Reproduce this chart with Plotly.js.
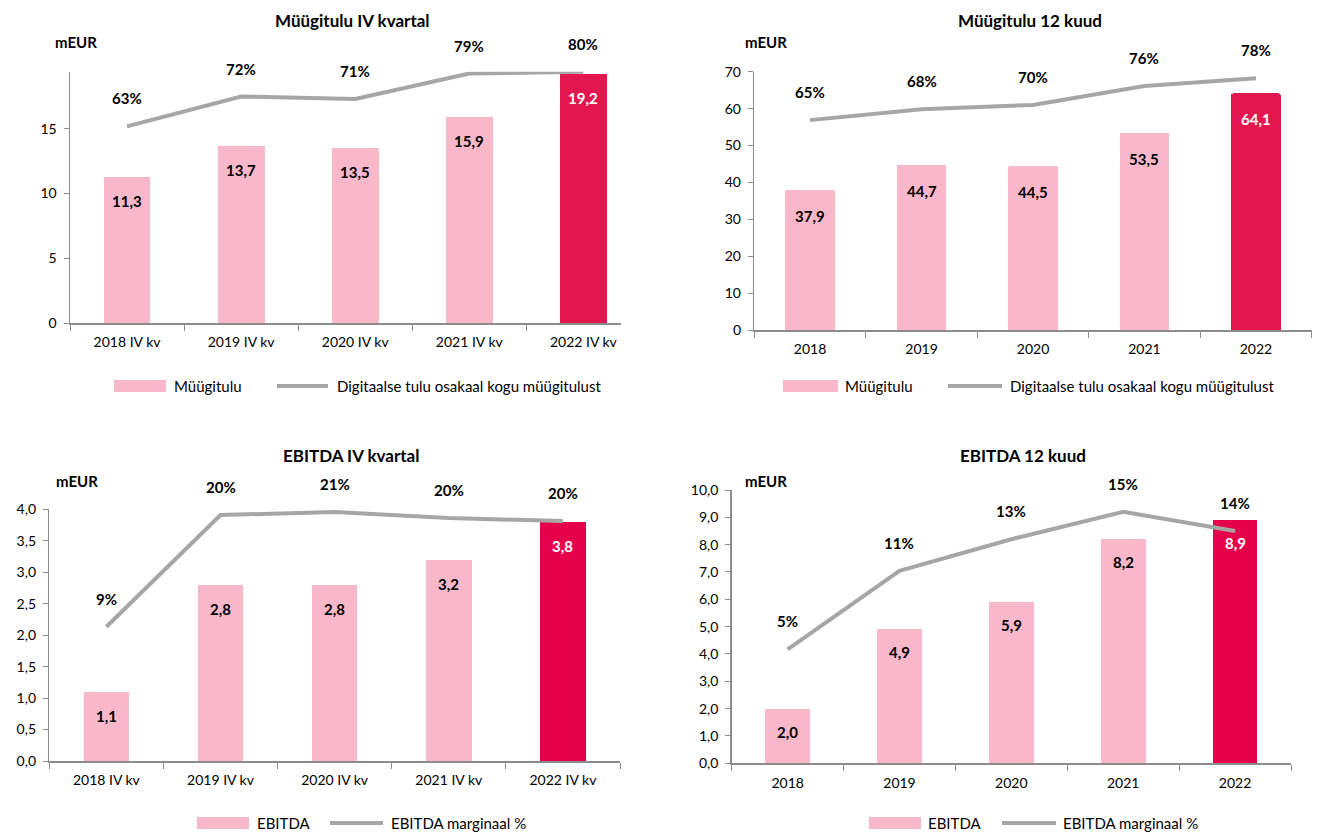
<!DOCTYPE html>
<html>
<head>
<meta charset="utf-8">
<script src="https://cdn.plot.ly/plotly-3.0.1.min.js"></script>
<style>
  html, body { margin: 0; padding: 0; background: #fff; }
  #chart { width: 1320px; height: 832px; }
</style>
</head>
<body>
<div id="chart"></div>
<script>
// andmed
const quarterCats = ['2018 IV kv', '2019 IV kv', '2020 IV kv', '2021 IV kv', '2022 IV kv'];
const yearCats = ['2018', '2019', '2020', '2021', '2022'];

const salesQ4 = [11.3, 13.7, 13.5, 15.9, 19.2];
const digitalShareQ4 = [62.6, 72.1, 71.3, 79.4, 80.0];

const sales12m = [37.9, 44.7, 44.5, 53.5, 64.1];
const digitalShare12m = [65.0, 68.4, 69.7, 75.6, 78.0];

const ebitdaQ4 = [1.1, 2.8, 2.8, 3.2, 3.8];
const ebitdaMarginQ4 = [9.3, 20.4, 20.7, 20.1, 19.8];

const ebitda12m = [2.0, 4.9, 5.9, 8.2, 8.9];
const ebitdaMargin12m = [5.3, 11.0, 13.3, 15.3, 13.9];

const titles = ['Müügitulu IV kvartal', 'Müügitulu 12 kuud', 'EBITDA IV kvartal', 'EBITDA 12 kuud'];
const barNames = ['Müügitulu', 'Müügitulu', 'EBITDA', 'EBITDA'];
const lineNames = ['Digitaalse tulu osakaal kogu müügitulust', 'Digitaalse tulu osakaal kogu müügitulust',
                   'EBITDA marginaal %', 'EBITDA marginaal %'];

const W = 1320, H = 832;
const px = x => x / W;
const py = y => 1 - y / H;

const PINK = '#f9b8ca';
const GREY = '#a6a6a6';
const AXIS = '#8c8c8c';

// paneelide paigutus (pikslites)
const panels = [
  { cats: quarterCats, bars: salesQ4, line: digitalShareQ4, left: 70, right: 621, top: 71.7, bottom: 323,
    yRange: [0, 19.4], dtick: 5, fmt: '', xRange: [-0.5, 4.33], y2Range: [0, 80], barW: 0.41,
    hi: '#e4164f', titleX: 352, titleY: 21, unitX: 76, unitY: 42, labShift: -24, radius: 0,
    leg: { box: [114, 166], boxText: 172, line: [277, 328], lineText: 335, y: 386 } },
  { cats: yearCats, bars: sales12m, line: digitalShare12m, left: 754.3, right: 1311.7, top: 71.7, bottom: 330,
    yRange: [0, 70], dtick: 10, fmt: '', xRange: [-0.5, 4.5], y2Range: [0, 80], barW: 0.445,
    hi: '#e4164f', titleX: 1030, titleY: 21, unitX: 766, unitY: 42, labShift: -26, radius: 2,
    leg: { box: [783, 838], boxText: 843, line: [948, 1002], lineText: 1008, y: 386 } },
  { cats: quarterCats, bars: ebitdaQ4, line: ebitdaMarginQ4, left: 49.3, right: 620, top: 509.3, bottom: 761,
    yRange: [0, 4], dtick: 0.5, fmt: '.1f', xRange: [-0.5, 4.5], y2Range: [-4.05, 20.97], barW: 0.40,
    hi: '#e6004c', titleX: 351, titleY: 455, unitX: 77, unitY: 481, labShift: -24, radius: 0,
    leg: { box: [197, 249], boxText: 255, line: [330, 383], lineText: 389, y: 823 } },
  { cats: yearCats, bars: ebitda12m, line: ebitdaMargin12m, left: 731.7, right: 1291, top: 490, bottom: 763.3,
    yRange: [0, 10], dtick: 1, fmt: '.1f', xRange: [-0.5, 4.5], y2Range: [-2.98, 16.88], barW: 0.40,
    hi: '#e6004c', titleX: 1023, titleY: 455, unitX: 766, unitY: 481, labShift: -23, radius: 0,
    leg: { box: [869, 921], boxText: 926, line: [1002, 1056], lineText: 1061, y: 823 } }
];

const fmtNum = v => v.toFixed(1).replace('.', ',');

const data = [];
const annotations = [];
const shapes = [];
const layout = {
  width: W, height: H,
  margin: { l: 0, r: 0, t: 0, b: 0 },
  paper_bgcolor: '#fff', plot_bgcolor: 'rgba(0,0,0,0)',
  font: { family: 'Source Sans Pro, Lato, sans-serif', color: '#000', size: 13 },
  separators: ', ',
  showlegend: false,
  bargap: 0
};

// paberikoordinaatides tekst, ankur alati keskel
function paperText(x, y, text, size, xanchor) {
  annotations.push({
    xref: 'paper', yref: 'paper', x: px(x), y: py(y), showarrow: false,
    xanchor: xanchor || 'center', yanchor: 'middle', text: text, font: { size: size }
  });
}

panels.forEach((p, i) => {
  const n = i + 1;
  const xa = 'x' + n, ya = 'y' + n, y2 = 'y' + (n + 4);
  const last = p.bars.length - 1;

  data.push({
    type: 'bar', x: p.cats, y: p.bars, xaxis: xa, yaxis: ya, width: p.barW,
    marker: { color: p.bars.map((v, k) => k === last ? p.hi : PINK), cornerradius: p.radius },
    hoverinfo: 'skip'
  });
  data.push({
    type: 'scatter', mode: 'lines', x: p.cats, y: p.line, xaxis: xa, yaxis: y2,
    line: { color: GREY, width: 4 }, hoverinfo: 'skip'
  });

  layout['xaxis' + n] = {
    domain: [px(p.left), px(p.right)], anchor: ya, range: p.xRange, type: 'category',
    showline: true, linecolor: AXIS, linewidth: 1.5, ticks: 'outside', tickson: 'boundaries',
    ticklen: 6, tickcolor: AXIS, showgrid: false, zeroline: false,
    tickfont: { size: 14 }, ticklabelstandoff: 6, fixedrange: true
  };
  layout['yaxis' + n] = {
    domain: [py(p.bottom), py(p.top)], anchor: xa, range: p.yRange, dtick: p.dtick, tick0: 0,
    tickformat: p.fmt, showline: true, linecolor: AXIS, linewidth: 1.5, ticks: 'outside',
    ticklen: 5, tickcolor: AXIS, showgrid: false, zeroline: false,
    tickfont: { size: 14 }, ticklabelstandoff: 4, fixedrange: true
  };
  layout['yaxis' + (n + 4)] = {
    overlaying: ya, anchor: xa, range: p.y2Range, visible: false, fixedrange: true
  };

  // väärtused tulpade sees (x = kategooria indeks)
  p.bars.forEach((v, k) => {
    annotations.push({
      xref: xa, yref: ya, x: k, y: v, yshift: p.labShift, showarrow: false,
      xanchor: 'center', yanchor: 'middle',
      text: '<b>' + fmtNum(v) + '</b>', font: { size: 15, color: k === last ? '#fff' : '#000' }
    });
  });
  // protsendid joone kohal
  p.line.forEach((v, k) => {
    annotations.push({
      xref: xa, yref: y2, x: k, y: v, yshift: 28, showarrow: false,
      xanchor: 'center', yanchor: 'middle',
      text: '<b>' + Math.round(v) + '%</b>', font: { size: 15 }
    });
  });

  paperText(p.titleX, p.titleY, '<b>' + titles[i] + '</b>', 17);
  paperText(p.unitX, p.unitY, '<b>mEUR</b>', 15);

  // legend käsitsi
  const L = p.leg;
  shapes.push({
    type: 'rect', xref: 'paper', yref: 'paper', x0: px(L.box[0]), x1: px(L.box[1]),
    y0: py(L.y + 6), y1: py(L.y - 6), fillcolor: PINK, line: { width: 0 }
  });
  shapes.push({
    type: 'line', xref: 'paper', yref: 'paper', x0: px(L.line[0]), x1: px(L.line[1]),
    y0: py(L.y), y1: py(L.y), line: { color: GREY, width: 4 }
  });
  paperText(L.boxText, L.y, barNames[i], 15, 'left');
  paperText(L.lineText, L.y, lineNames[i], 15, 'left');
});

layout.annotations = annotations;
layout.shapes = shapes;

Plotly.newPlot('chart', data, layout, { staticPlot: true, displayModeBar: false });
</script>
</body>
</html>
